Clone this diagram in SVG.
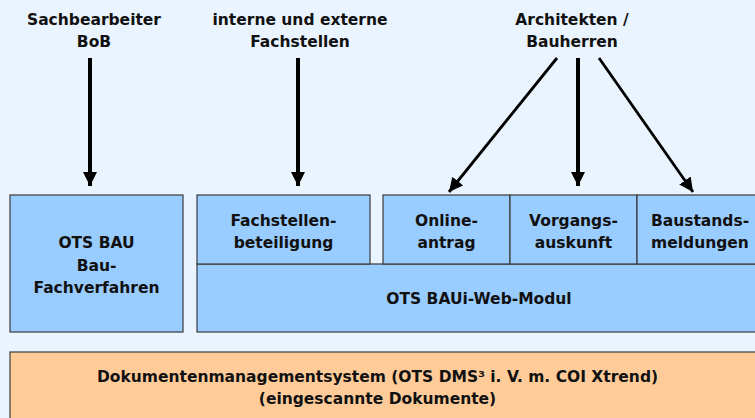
<svg xmlns="http://www.w3.org/2000/svg" width="755" height="418" viewBox="0 0 755 418">
<style>
  text { font-family: "DejaVu Sans", "Liberation Sans", sans-serif; font-weight: bold; font-size: 15.5px; fill: #111; text-anchor: middle; }
  .box { fill: #99ccff; stroke: #3a3a3a; stroke-width: 1.2; }
  .dms { fill: #ffcc99; stroke: #3a3a3a; stroke-width: 1.2; }
  .conn { stroke: #000; fill: none; }
</style>
<defs>
  <marker id="ah" markerUnits="userSpaceOnUse" markerWidth="16" markerHeight="16" refX="14" refY="7" orient="auto">
    <path d="M0,0 L14,7 L0,14 Z" fill="#000"/>
  </marker>
</defs>
<rect x="0" y="0" width="755" height="418" fill="#eaf4fe"/>

<g id="label-sachbearbeiter">
  <text x="94" y="25">Sachbearbeiter</text>
  <text x="94" y="47">BoB</text>
</g>
<g id="label-fachstellen">
  <text x="300" y="25">interne und externe</text>
  <text x="300" y="47">Fachstellen</text>
</g>
<g id="label-architekten">
  <text x="572" y="25">Architekten /</text>
  <text x="572" y="47">Bauherren</text>
</g>

<g id="ots-bau">
  <rect class="box" x="10" y="195" width="173" height="137"/>
  <text x="96.5" y="248">OTS BAU</text>
  <text x="96.5" y="271">Bau-</text>
  <text x="96.5" y="293">Fachverfahren</text>
</g>
<g id="web-modul">
  <rect class="box" x="197" y="264" width="566" height="68"/>
  <text x="479" y="304">OTS BAUi-Web-Modul</text>
</g>
<g id="fachstellenbeteiligung">
  <rect class="box" x="197" y="195" width="173" height="69"/>
  <text x="283.5" y="226">Fachstellen-</text>
  <text x="283.5" y="248">beteiligung</text>
</g>
<g id="onlineantrag">
  <rect class="box" x="383" y="195" width="127" height="69"/>
  <text x="446.5" y="226">Online-</text>
  <text x="446.5" y="248">antrag</text>
</g>
<g id="vorgangsauskunft">
  <rect class="box" x="510" y="195" width="127" height="69"/>
  <text x="573.5" y="226">Vorgangs-</text>
  <text x="573.5" y="248">auskunft</text>
</g>
<g id="baustandsmeldungen">
  <rect class="box" x="637" y="195" width="126" height="69"/>
  <text x="700" y="226">Baustands-</text>
  <text x="700" y="248">meldungen</text>
</g>
<g id="dms">
  <rect class="dms" x="10" y="352" width="755" height="80"/>
  <text x="377.5" y="382">Dokumentenmanagementsystem (OTS DMS³ i. V. m. COI Xtrend)</text>
  <text x="377.5" y="404">(eingescannte Dokumente)</text>
</g>

<g id="connectors">
  <line class="conn" x1="90" y1="58" x2="90" y2="186" stroke-width="4" marker-end="url(#ah)"/>
  <line class="conn" x1="298" y1="58" x2="298" y2="186" stroke-width="4" marker-end="url(#ah)"/>
  <line class="conn" x1="557" y1="58" x2="449" y2="192" stroke-width="2.8" marker-end="url(#ah)"/>
  <line class="conn" x1="578" y1="58" x2="578" y2="186" stroke-width="4" marker-end="url(#ah)"/>
  <line class="conn" x1="599" y1="58" x2="693" y2="192" stroke-width="2.8" marker-end="url(#ah)"/>
</g>
</svg>
